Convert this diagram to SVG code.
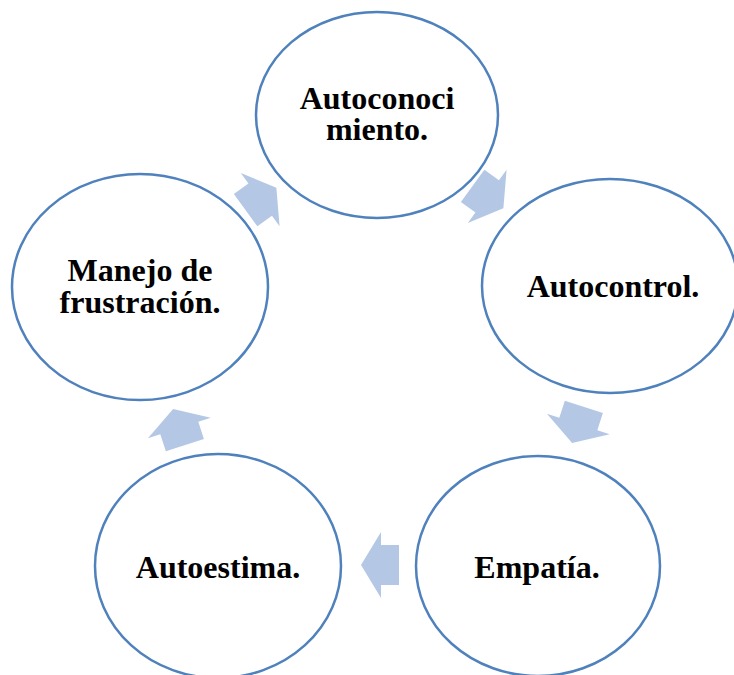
<svg xmlns="http://www.w3.org/2000/svg" width="734" height="675" viewBox="0 0 734 675">
<defs>
<style>
.node ellipse{fill:#FFFFFF;stroke:#4F81BD;stroke-width:2.5}
.node text{font-family:"Liberation Serif","Times New Roman",serif;font-weight:bold;font-size:32px;fill:#000000;text-anchor:middle}
.arrow{fill:#B4C8E6;stroke:none}
</style>
<polygon id="arr" points="-19,-20 -1,-20 -1,-33 19,0 -1,33 -1,20 -19,20"/>
</defs>
<rect width="734" height="675" fill="#FFFFFF"/>
<g id="connectors">
<use href="#arr" class="arrow" transform="translate(261,199) rotate(-36)"/>
<use href="#arr" class="arrow" transform="translate(488,197) rotate(36)"/>
<use href="#arr" class="arrow" transform="translate(578,425) rotate(108)"/>
<use href="#arr" class="arrow" transform="translate(380,565) rotate(180)"/>
<use href="#arr" class="arrow" transform="translate(179,427) rotate(252)"/>
</g>
<g id="node-autoconocimiento" class="node">
<ellipse cx="377" cy="115" rx="121" ry="103"/>
<text x="377" y="109">Autoconoci</text>
<text x="377" y="140">miento.</text>
</g>
<g id="node-autocontrol" class="node">
<ellipse cx="610" cy="286" rx="128" ry="107"/>
<text x="613" y="297">Autocontrol.</text>
</g>
<g id="node-empatia" class="node">
<ellipse cx="538" cy="566" rx="122" ry="110"/>
<text x="537" y="578">Empatía.</text>
</g>
<g id="node-autoestima" class="node">
<ellipse cx="218" cy="566" rx="123" ry="112"/>
<text x="218" y="578">Autoestima.</text>
</g>
<g id="node-manejo" class="node">
<ellipse cx="140" cy="287" rx="128" ry="113"/>
<text x="140" y="281">Manejo de</text>
<text x="140" y="313">frustración.</text>
</g>
</svg>
